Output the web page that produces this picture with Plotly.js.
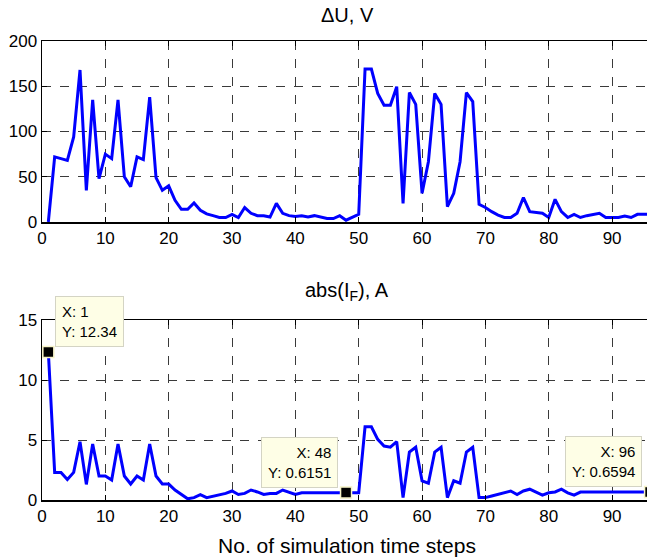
<!DOCTYPE html>
<html>
<head>
<meta charset="utf-8">
<script src="https://cdn.plot.ly/plotly-3.0.1.min.js"></script>
<style>
html,body{margin:0;padding:0;overflow:hidden;background:#fff;}
#chart{width:652px;height:559px;}
</style>
</head>
<body>
<div id="chart"></div>
<script>
// Time steps 1..96
const steps = Array.from({length: 96}, (_, i) => i + 1);

// Top panel: Delta U, V
const deltaU = [
  0, 72, 70, 68, 94, 168, 35, 135, 48, 75,
  70, 135, 50, 39, 72, 69, 138, 49, 35, 40,
  24, 14, 14, 21, 13, 9, 7, 5, 5, 8.5,
  5, 16, 9.6, 7, 7, 5.5, 20.6, 9.6, 7, 6,
  7, 5.5, 7, 5.5, 3.8, 3.8, 7, 2, 5.5, 8.5,
  169, 169, 142, 129, 129, 149.5, 20.6, 143, 130, 31.7,
  66.6, 142, 130, 17, 31.7, 66.6, 143, 133, 19.5, 16,
  11.4, 7.7, 5, 5, 9.6, 27, 11.4, 10.5, 9.6, 5,
  25, 11.4, 5, 8.5, 5, 7, 8.5, 9.6, 5, 5,
  5, 6.7, 5, 8.5, 8.5, 8.5
];

// Bottom panel: abs(I_F), A
const absIF = [
  12.34, 2.3, 2.3, 1.7, 2.3, 4.86, 1.3, 4.67, 2.0, 2.0,
  1.67, 4.67, 2.0, 1.33, 2.0, 1.67, 4.67, 2.0, 1.33, 1.33,
  0.83, 0.5, 0.1, 0.2, 0.45, 0.2, 0.33, 0.46, 0.55, 0.75,
  0.46, 0.55, 0.83, 0.67, 0.46, 0.55, 0.55, 0.83, 0.67, 0.46,
  0.6, 0.6, 0.6, 0.6, 0.6, 0.6, 0.6, 0.6151, 0.6, 0.6,
  6.1, 6.1, 5.05, 4.5, 4.4, 4.86, 0.2, 4.0, 4.4, 1.6,
  1.4, 4.0, 4.4, 0.2, 1.6, 1.4, 4.0, 4.4, 0.2, 0.2,
  0.33, 0.46, 0.6, 0.75, 0.46, 0.75, 0.9, 0.67, 0.4, 0.6,
  0.67, 0.9, 0.6, 0.4, 0.6594, 0.6594, 0.6594, 0.6594, 0.6594, 0.6594,
  0.6594, 0.6594, 0.6594, 0.6594, 0.6594, 0.6594
];

// Data tips
const tipX = [1, 48, 96];
const tipY = [12.34, 0.6151, 0.6594];
const tipLabelsX = ["X: 1", "X: 48", "X: 96"];
const tipLabelsY = ["Y: 12.34", "Y: 0.6151", "Y: 0.6594"];

const xTicks = [0, 10, 20, 30, 40, 50, 60, 70, 80, 90];
const yTicksTop = [0, 50, 100, 150, 200];
const yTicksBottom = [0, 5, 10, 15];

const FONT = "Liberation Sans, Arial, sans-serif";
const lineBlue = {color: "#0000ff", width: 3};

const traces = [
  {x: steps, y: deltaU, type: "scatter", mode: "lines", line: lineBlue, xaxis: "x", yaxis: "y", hoverinfo: "none"},
  {x: steps, y: absIF, type: "scatter", mode: "lines", line: lineBlue, xaxis: "x2", yaxis: "y2", hoverinfo: "none"},
  {x: tipX, y: tipY, type: "scatter", mode: "markers", xaxis: "x2", yaxis: "y2", cliponaxis: false,
   marker: {symbol: "square", size: 11, color: "#000000", line: {color: "#f6f3c8", width: 1.5}}, hoverinfo: "none"}
];

const axCommon = {
  showline: true, linecolor: "#000", linewidth: 1.5, mirror: "ticks",
  ticks: "inside", ticklen: 5, tickcolor: "#000", tickwidth: 1,
  showgrid: true, gridcolor: "#3a3a3a", griddash: "dash", gridwidth: 1,
  zeroline: false, tickfont: {family: FONT, size: 17, color: "#000"}
};

const xRange = [0, 96.3];

const layout = {
  width: 652, height: 559,
  margin: {l: 42, r: 0, t: 0, b: 0},
  paper_bgcolor: "#fff", plot_bgcolor: "#fff",
  showlegend: false,
  font: {family: FONT, color: "#000"},
  xaxis: Object.assign({}, axCommon, {domain: [0, 1], range: xRange, tickvals: xTicks, anchor: "y"}),
  yaxis: Object.assign({}, axCommon, {domain: [1 - 222/559, 1 - 41/559], range: [0, 200], tickvals: yTicksTop, anchor: "x"}),
  xaxis2: Object.assign({}, axCommon, {domain: [0, 1], range: xRange, tickvals: xTicks, anchor: "y2",
    title: {text: "No. of simulation time steps", font: {family: FONT, size: 21, color: "#000"}, standoff: 13}}),
  yaxis2: Object.assign({}, axCommon, {domain: [1 - 500/559, 1 - 320/559], range: [0, 15], tickvals: yTicksBottom, anchor: "x2"}),
  annotations: [
    {text: "\u0394U, V", xref: "paper", yref: "paper", x: 0.5, y: 1 - 15/559, xanchor: "center", yanchor: "middle",
     showarrow: false, font: {family: FONT, size: 20, color: "#000"}},
    {text: "abs(I<sub>F</sub>), A", xref: "paper", yref: "paper", x: 0.5, y: 1 - 291/559, xanchor: "center", yanchor: "middle",
     showarrow: false, font: {family: FONT, size: 20, color: "#000"}}
  ]
};

const tipAnchors = [
  {xanchor: "left", xshift: 7, align: "left"},
  {xanchor: "right", xshift: -8, align: "right"},
  {xanchor: "right", xshift: -8, align: "right"}
];
for (let i = 0; i < tipX.length; i++) {
  layout.annotations.push({
    xref: "x2", yref: "y2", x: tipX[i], y: tipY[i],
    text: tipLabelsX[i] + "<br>" + tipLabelsY[i],
    showarrow: false, xanchor: tipAnchors[i].xanchor, yanchor: "bottom",
    xshift: tipAnchors[i].xshift, yshift: 5, align: tipAnchors[i].align,
    bgcolor: "#fefee6", bordercolor: "#d4d4c4", borderwidth: 1, borderpad: 6,
    font: {family: FONT, size: 15, color: "#000"}
  });
}

Plotly.newPlot("chart", traces, layout, {staticPlot: true, displayModeBar: false});
</script>
</body>
</html>
